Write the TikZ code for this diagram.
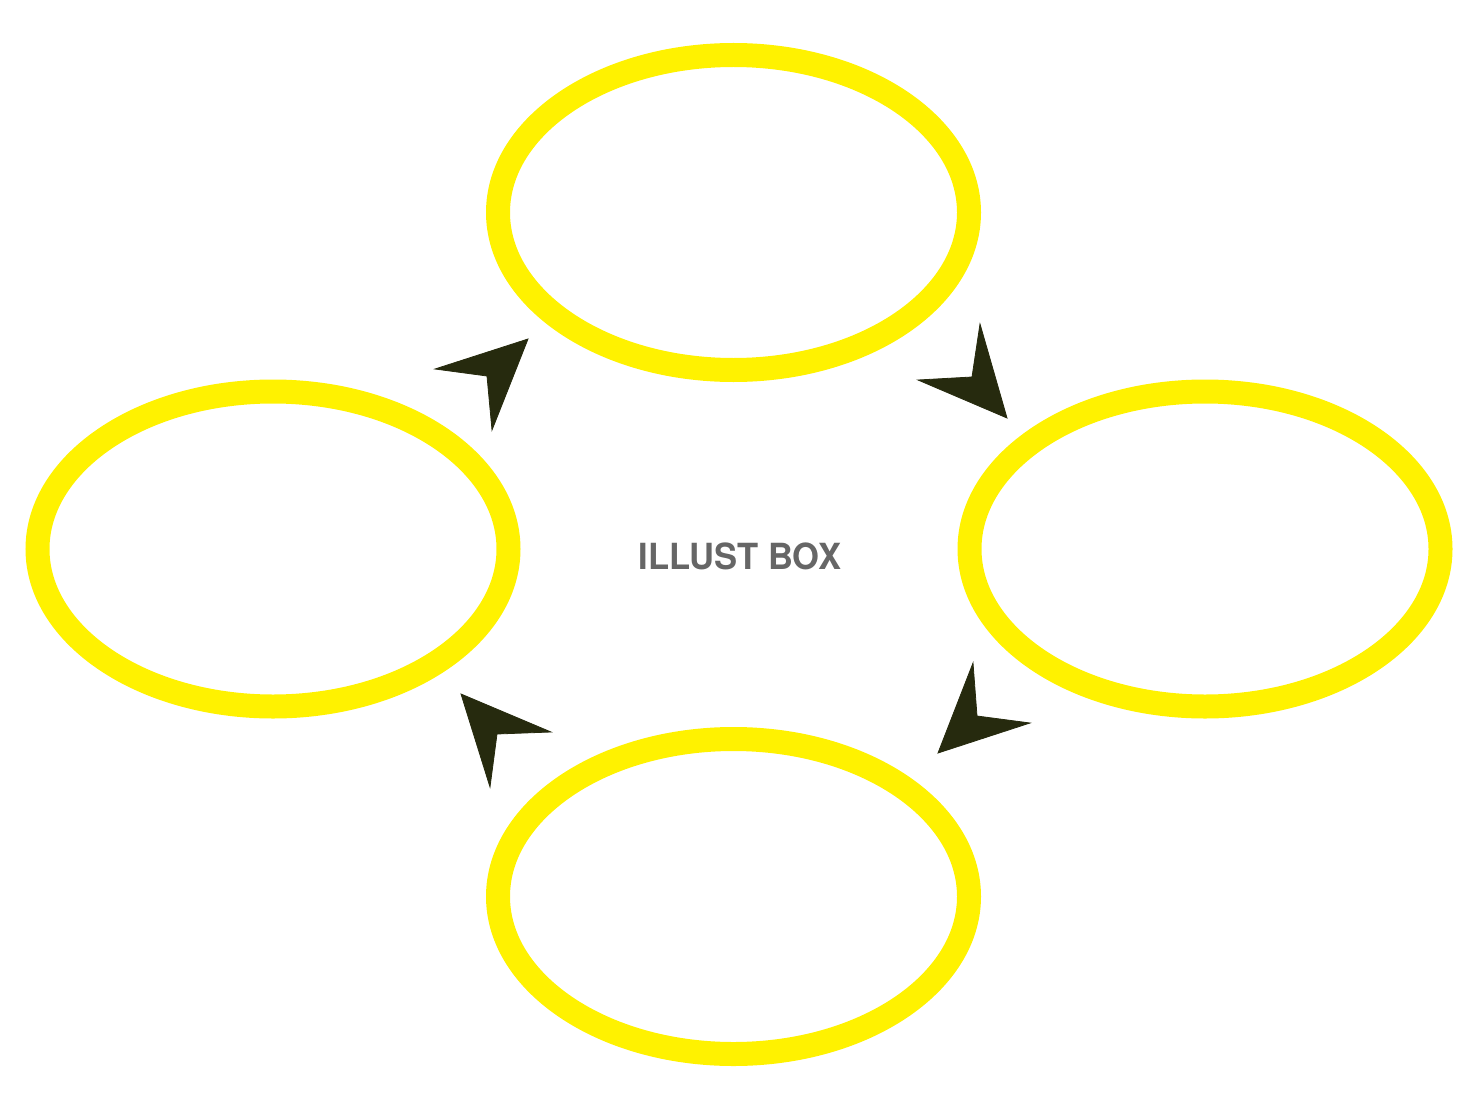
\documentclass[tikz,border=0pt]{standalone}
\usepackage{fontspec}
\setmainfont{TeX Gyre Heros}
\usetikzlibrary{shapes.geometric}
\definecolor{ringyellow}{HTML}{FFF200}
\definecolor{tipolive}{HTML}{262A0E}
\definecolor{labelgray}{HTML}{666666}
\begin{document}
\begin{tikzpicture}[x=1pt,y=-1pt,
  ring/.style={draw=ringyellow, line width=24pt, ellipse, inner sep=0pt,
    minimum width=471pt, minimum height=315pt},
  tipshape/.style={fill=tipolive, draw=tipolive, line width=0.8pt, line join=miter}]
\useasboundingbox (0,0) rectangle (1480,1110);
\node[ring] (top) at (733.5,212.5) {};
\node[ring] (left) at (273,549) {};
\node[ring] (right) at (1205,549) {};
\node[ring] (bottom) at (733.5,896.5) {};
\node[text=labelgray, draw=labelgray, line width=0pt, font=\fontsize{36}{36}\selectfont\bfseries, xscale=0.96, inner sep=0pt, draw=none] (label) at (740,556) {ILLUST BOX};
% arrowheads
\fill[tipshape] (528,339) -- (435,369) -- (487,376) -- (492,430) -- cycle;
\fill[tipshape] (1007,418) -- (980,324) -- (972,377) -- (918,380) -- cycle;
\fill[tipshape] (938,753) -- (973,663) -- (977,716) -- (1030,723) -- cycle;
\fill[tipshape] (461,694) -- (551,732) -- (497,734) -- (490,787) -- cycle;
\end{tikzpicture}
\end{document}
